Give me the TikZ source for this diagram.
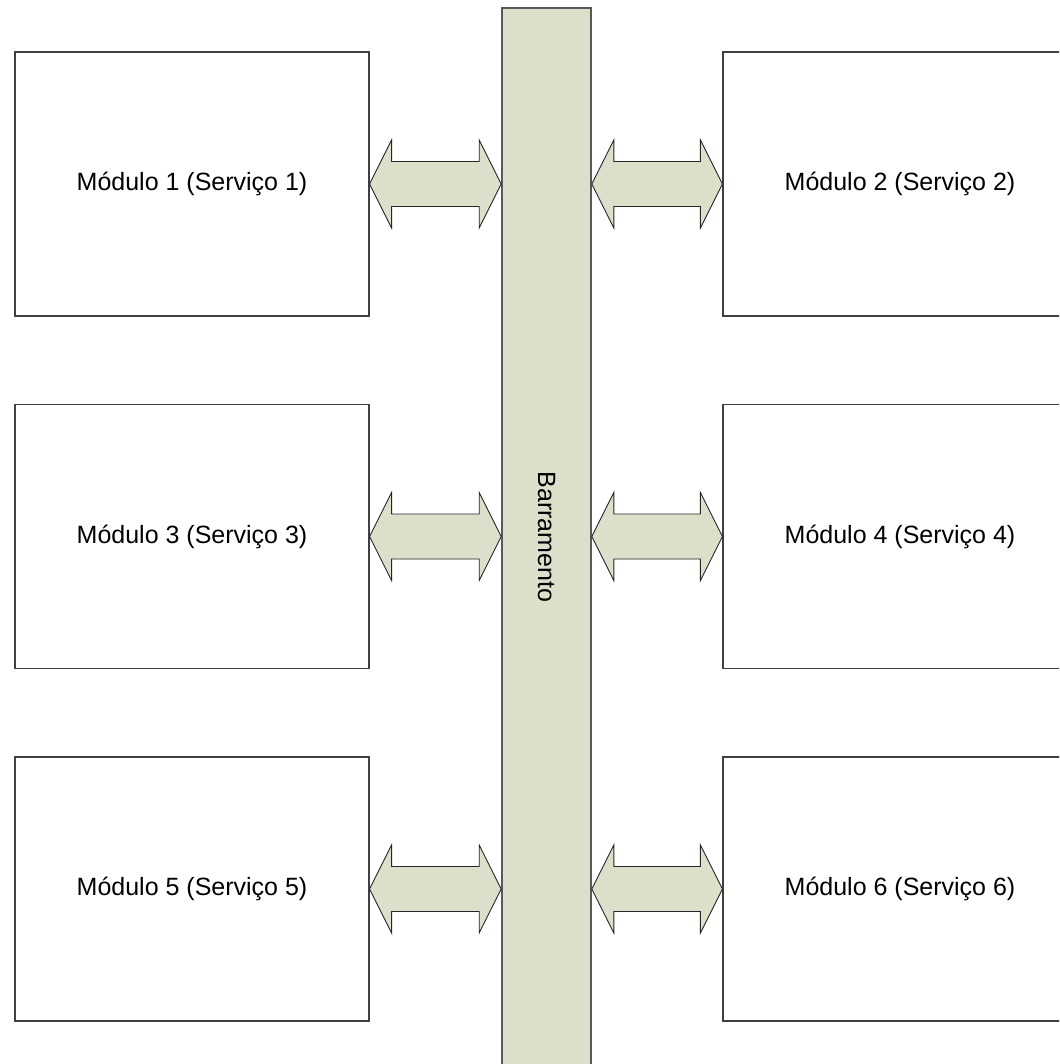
\documentclass[tikz,border=0pt]{standalone}
\usepackage{fontspec}
\setmainfont{Liberation Sans}
\usetikzlibrary{calc}
\definecolor{barra}{RGB}{220,224,203}
\tikzset{
  modulo/.style={draw=black!75,line width=1.2pt,fill=white,minimum width=354pt,minimum height=264pt,inner sep=0pt,font=\fontsize{25}{30}\selectfont},
  barramento/.style={draw=black!65,line width=1.6pt,fill=barra,minimum width=89pt,minimum height=1080pt,inner sep=0pt},
  seta/.style={draw=black!85,line width=0.9pt,fill=barra,line join=miter}
}
\newcommand{\dblarrow}[2]{%
  \draw[seta] let \p1=(#1), \p2=(#2) in
    (\p1) -- (\x1+22pt,\y1+44pt) -- (\x1+22pt,\y1+22.5pt) -- (\x2-22pt,\y1+22.5pt)
    -- (\x2-22pt,\y1+44pt) -- (\p2) -- (\x2-22pt,\y1-44pt) -- (\x2-22pt,\y1-22.5pt)
    -- (\x1+22pt,\y1-22.5pt) -- (\x1+22pt,\y1-44pt) -- cycle;}
\begin{document}
\begin{tikzpicture}[x=1pt,y=-1pt]
    \clip (0,0) rectangle (1059,1064);
    \fill[white] (0,0) rectangle (1059,1064);
    \node[barramento,anchor=north] (bus) at (546.5,7) {};
    \node[rotate=-90,font=\fontsize{25}{30}\selectfont] (txtbus) at (546.5,537) {Barramento};
    \foreach \i/\j/\y in {1/2/184,3/4/536.5,5/6/889}{
        \node[modulo] (m\i) at (192,\y) {Módulo \i\ (Serviço \i)};
        \node[modulo] (m\j) at (900,\y) {Módulo \j\ (Serviço \j)};
        \coordinate (b\i) at (bus.west |- m\i.east);
        \coordinate (b\j) at (bus.east |- m\j.west);
        \dblarrow{m\i.east}{b\i}
        \dblarrow{b\j}{m\j.west}
    }
\end{tikzpicture}
\end{document}
